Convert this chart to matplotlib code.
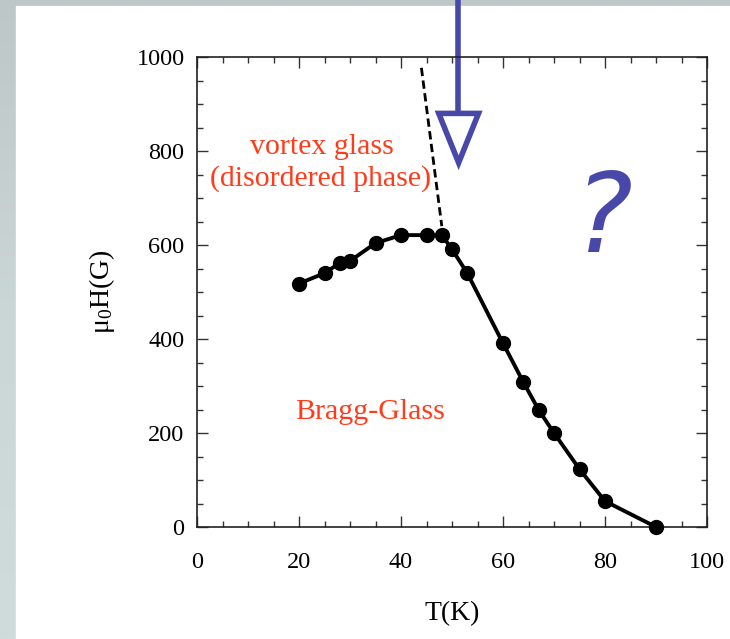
import numpy as np
import matplotlib.pyplot as plt
from matplotlib.patches import Rectangle, Polygon

# Phase boundary points, T in K and mu0 H in G
T_K = [20, 25, 28, 30, 35, 40, 45, 48, 50, 53, 60, 64, 67, 70, 75, 80, 90]
H_G = [518, 540, 562, 566, 604, 621, 621, 621, 591, 540, 391, 308, 249, 200, 123, 55, 0]

# dashed line separating the glass phases
dash_T = [44, 48]
dash_H = [977, 640]

x_ticks = [0, 20, 40, 60, 80, 100]
y_ticks = [0, 200, 400, 600, 800, 1000]

BLUE = '#4848a8'
RED = '#ff3b1a'

plt.rcParams['font.family'] = ['Liberation Serif', 'DejaVu Serif']
plt.rcParams['mathtext.fontset'] = 'custom'
plt.rcParams['mathtext.rm'] = 'Liberation Serif'
plt.rcParams['mathtext.it'] = 'Liberation Serif'

fig = plt.figure(figsize=(7.30, 6.39), dpi=100)

# slide background: grey strip on left/top, white panel
bg = fig.add_axes([0, 0, 1, 1], zorder=-10)
grad = np.linspace(0, 1, 256).reshape(-1, 1)
bg.imshow(grad, aspect='auto', extent=[0, 1, 0, 1], origin='upper',
          cmap=plt.matplotlib.colors.LinearSegmentedColormap.from_list(
              'bg', ['#bec7c8', '#cbd6d6', '#d0dcdc']))
bg.add_patch(Rectangle((16 / 730, 0), 1, 1 - 6 / 639, color='white'))
bg.set_xlim(0, 1)
bg.set_ylim(0, 1)
bg.axis('off')

ax = fig.add_axes([197 / 730, 1 - 527 / 639, 510 / 730, 470 / 639])
ax.set_facecolor('none')

ax.plot(T_K, H_G, color='black', lw=2.8, marker='o', ms=10, zorder=3,
        clip_on=False)
ax.plot(dash_T, dash_H, color='black', lw=2.0, ls=(0, (3, 1.6)), zorder=2)

ax.set_xlim(0, 100)
ax.set_ylim(0, 1000)
ax.set_xticks(x_ticks)
ax.set_yticks(y_ticks)
ax.set_xticks(np.arange(0, 101, 5), minor=True)
ax.set_yticks(np.arange(0, 1001, 50), minor=True)
ax.tick_params(which='both', direction='in', top=True, right=True,
               labelsize=17.5, width=1, color='#333333')
ax.tick_params(which='major', length=8)
ax.tick_params(which='minor', length=4)
ax.tick_params(axis='x', pad=18)
ax.tick_params(axis='y', pad=9)
for s in ax.spines.values():
    s.set_linewidth(1.2)
    s.set_color('#222222')

ax.set_xlabel('T(K)', fontsize=20, labelpad=20)
ax.set_ylabel('μ$_0$H(G)', fontsize=20, labelpad=14)

ax.text(24.5, 808, 'vortex glass', color=RED, fontsize=21.5, ha='center', va='center')
ax.text(24.3, 741, '(disordered phase)', color=RED, fontsize=21.5, ha='center', va='center')
ax.text(34, 245, 'Bragg-Glass', color=RED, fontsize=21.5, ha='center', va='center')

# arrow pointing at the boundary from above
ax.plot([51.2, 51.2], [1125, 885], color=BLUE, lw=4, clip_on=False,
        solid_capstyle='butt')
ax.add_patch(Polygon([[47.4, 880], [55.2, 880], [51.3, 775]], closed=True,
                     fill=False, edgecolor=BLUE, lw=4, clip_on=False,
                     joinstyle='miter'))

ax.text(79.6, 650, '?', color=BLUE, fontsize=80, ha='center', va='center',
        family='DejaVu Sans', style='oblique')

fig.savefig('out.png', dpi=100)
